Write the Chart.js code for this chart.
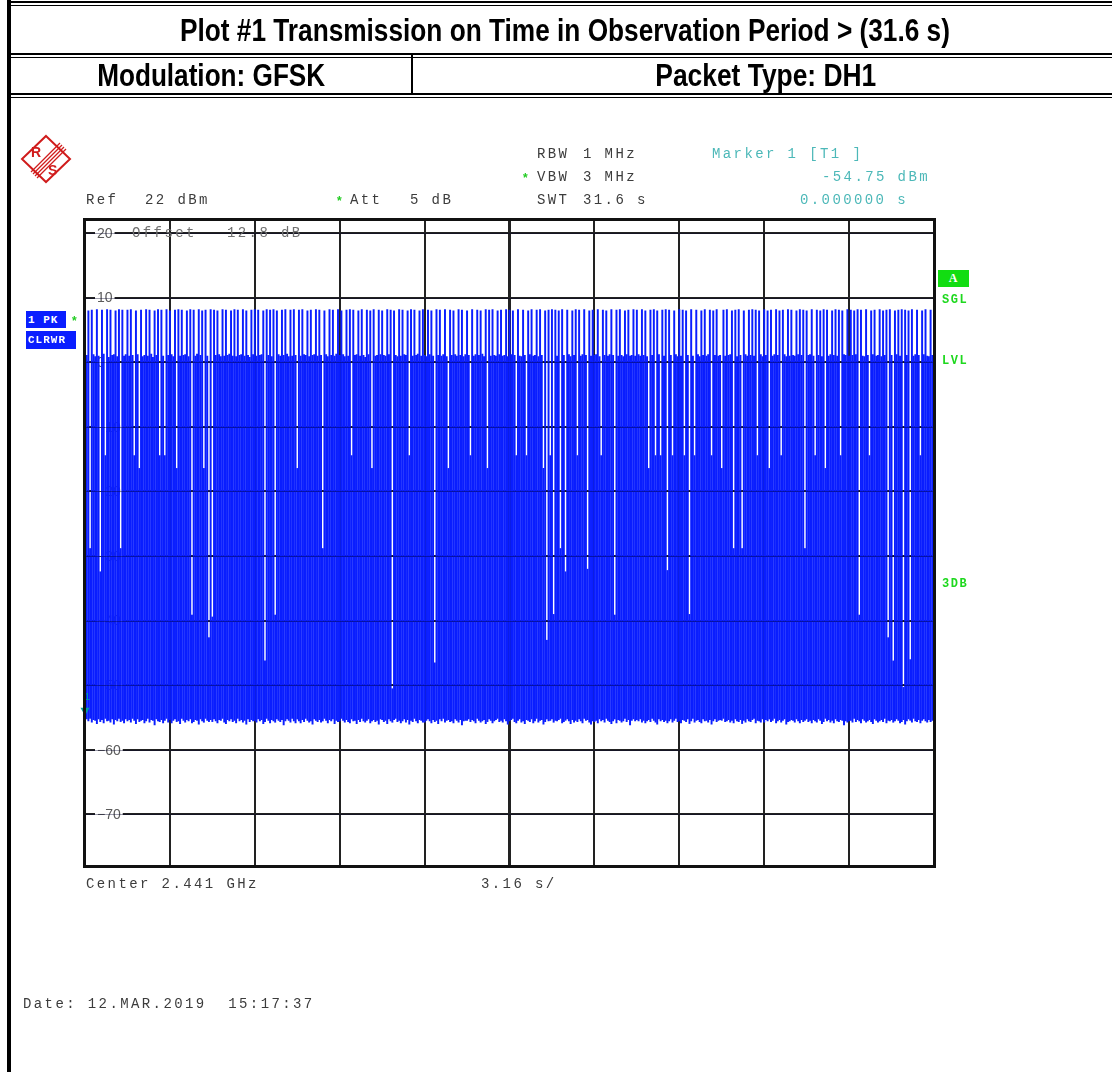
<!DOCTYPE html>
<html>
<head>
<meta charset="utf-8">
<title>Plot #1 Transmission on Time in Observation Period</title>
<script src="https://cdn.jsdelivr.net/npm/chart.js@4.4.1/dist/chart.umd.min.js"></script>
<style>
  html, body { margin: 0; padding: 0; background: #fff; }
  #page { position: relative; width: 1112px; height: 1072px; overflow: hidden; }
  #plot { position: absolute; left: 0; top: 0; }
  .bar { position: absolute; background: #000; }
  .row { position: absolute; display: flex; align-items: center; justify-content: center; }
  .head { font-family: "Liberation Sans Narrow", "Liberation Sans", sans-serif; font-weight: bold; font-size: 31px; color: #000; white-space: pre; display: inline-block; }
  .m { position: absolute; font-family: "Liberation Mono", monospace; font-size: 14px; line-height: 14px; letter-spacing: 2.4px; color: #3c3c3c; white-space: pre; }
  .mk { color: #4cb8b8; }
  .grey { color: #707070; }
  .star { position: absolute; font-family: "Liberation Sans", sans-serif; font-weight: bold; font-size: 12px; line-height: 12px; color: #22cc22; }
  .g { position: absolute; font-family: "Liberation Mono", monospace; font-weight: bold; font-size: 12px; line-height: 12px; letter-spacing: 1.5px; color: #1ed81e; }
  .box { position: absolute; font-family: "Liberation Mono", monospace; font-weight: bold; font-size: 11px; color: #fff; display: flex; align-items: center; padding-left: 2px; box-sizing: border-box; white-space: pre; letter-spacing: 1px; }
</style>
</head>
<body>
<div id="page">
  <canvas id="plot" width="1112" height="1072"></canvas>

  <!-- report table frame -->
  <div class="bar" style="left:7px;top:0;width:4px;height:1072px"></div>
  <div class="bar" style="left:7px;top:1px;width:1105px;height:2px"></div>
  <div class="bar" style="left:7px;top:5px;width:1105px;height:1px"></div>
  <div class="bar" style="left:7px;top:53px;width:1105px;height:2px"></div>
  <div class="bar" style="left:7px;top:57px;width:1105px;height:1px"></div>
  <div class="bar" style="left:7px;top:93px;width:1105px;height:2px"></div>
  <div class="bar" style="left:7px;top:97px;width:1105px;height:1px"></div>
  <div class="bar" style="left:411px;top:55px;width:2px;height:40px"></div>

  <div class="row" style="left:11px;top:8px;width:1108px;height:46px"><span class="head" data-fit="770">Plot #1 Transmission on Time in Observation Period &gt; (31.6 s)</span></div>
  <div class="row" style="left:11px;top:58px;width:400px;height:35px"><span class="head" data-fit="228">Modulation: GFSK</span></div>
  <div class="row" style="left:414px;top:58px;width:704px;height:35px"><span class="head" data-fit="221">Packet Type: DH1</span></div>

  <!-- R&S logo -->
  <svg style="position:absolute;left:16px;top:130px" width="60" height="58" viewBox="16 130 60 58">
    <polygon points="46,136 70,159 46,182 22,159" fill="none" stroke="#d01c1c" stroke-width="2"/>
    <g stroke="#d01c1c" stroke-width="1.3">
      <line x1="31" y1="172" x2="60" y2="143"/>
      <line x1="33" y1="174" x2="62" y2="145"/>
      <line x1="35" y1="176" x2="64" y2="147"/>
      <line x1="37" y1="178" x2="66" y2="149"/>
    </g>
    <text x="31" y="157" font-family="Liberation Sans" font-weight="bold" font-size="14" fill="#d01c1c">R</text>
    <text x="48" y="175" font-family="Liberation Sans" font-weight="bold" font-size="14" fill="#d01c1c">S</text>
  </svg>

  <!-- instrument settings -->
  <div class="m" style="left:537px;top:147px">RBW</div>
  <div class="m" style="left:583px;top:147px">1 MHz</div>
  <div class="star" style="left:523px;top:172px">*</div>
  <div class="m" style="left:537px;top:170px">VBW</div>
  <div class="m" style="left:583px;top:170px">3 MHz</div>
  <div class="m" style="left:537px;top:193px">SWT</div>
  <div class="m" style="left:583px;top:193px">31.6 s</div>
  <div class="m" style="left:86px;top:193px">Ref</div>
  <div class="m" style="left:145px;top:193px">22 dBm</div>
  <div class="star" style="left:337px;top:195px">*</div>
  <div class="m" style="left:350px;top:193px">Att</div>
  <div class="m" style="left:410px;top:193px">5 dB</div>
  <div class="m mk" style="left:712px;top:147px">Marker 1 [T1 ]</div>
  <div class="m mk" style="right:182px;top:170px">-54.75 dBm</div>
  <div class="m mk" style="right:204px;top:193px">0.000000 s</div>
  <div class="m grey" style="left:132px;top:226px">Offset</div>
  <div class="m grey" style="left:227px;top:226px">12.8 dB</div>

  <div class="m" style="left:86px;top:877px">Center 2.441 GHz</div>
  <div class="m" style="left:481px;top:877px">3.16 s/</div>
  <div class="m" style="left:23px;top:997px">Date: 12.MAR.2019  15:17:37</div>

  <!-- trace / status labels -->
  <div class="box" style="left:26px;top:311px;width:40px;height:17px;background:#0a1eff">1 PK</div>
  <div class="star" style="left:72px;top:315px">*</div>
  <div class="box" style="left:26px;top:331px;width:50px;height:18px;background:#0a1eff">CLRWR</div>
  <div class="box" style="left:938px;top:270px;width:31px;height:17px;background:#12dd12;justify-content:center;padding:0;font-family:'Liberation Serif',serif;font-size:12px">A</div>
  <div class="g" style="left:942px;top:294px">SGL</div>
  <div class="g" style="left:942px;top:355px">LVL</div>
  <div class="g" style="left:942px;top:578px">3DB</div>
</div>

<script>
// sweep settings
const sweepTime = 31.6;      // s
const xDivisions = 10;
const refLevel = 22;         // dBm, top of screen
const bottomLevel = -78;     // dBm, bottom of screen
const levelTicks = [20, 10, 0, -10, -20, -30, -40, -50, -60, -70];

// marker 1
const markerTime = 0;
const markerDbm = -54.75;

// max hold level of each sweep point (dBm)
const peakDbm = [
  8.2, 1.1, 8.0, -28.8, 8.1, 1.2, 0.9, 8.2, 1.0, -32.4, 8.1, 1.3, -14.4, 8.2, 0.8, 8.1, 1.1, 1.2, 8.0, 0.9, 8.2, -28.8, 8.1, 1.0, 1.2,
  8.1, 1.0, 8.2, 1.1, -14.4, 8.0, 1.2, -16.4, 8.1, 0.9, 1.1, 8.2, 1.0, 8.1, 1.3, 0.8, 8.0, 1.1, 8.2, -14.4, 8.1, 1.0, -14.4, 8.2, 1.1,
  8.0, 1.2, 0.9, 8.1, -16.4, 8.2, 1.0, 8.1, 1.1, 1.2, 8.0, 0.9, 8.2, -39.1, 8.1, 1.0, 1.3, 8.2, 1.1, 8.0, -16.4, 8.1, 1.0, -42.6, 8.2,
  -39.4, 8.1, 1.1, 8.0, 1.2, 0.9, 8.2, 1.0, 8.1, 1.1, 1.3, 8.0, 1.0, 8.2, 0.9, 8.1, 1.1, 1.2, 8.2, 1.0, 8.0, 1.1, 0.8, 8.1, 1.2,
  8.2, 1.0, 8.1, 1.1, 1.2, 8.0, -46.2, 8.2, 1.1, 8.1, 0.9, 8.2, -39.1, 8.0, 1.2, 1.0, 8.1, 1.1, 8.2, 1.3, 0.9, 8.1, 1.0, 8.2, 1.1,
  -16.4, 8.1, 1.0, 8.2, 1.2, 1.1, 8.0, 0.9, 8.1, 1.1, 1.2, 8.2, 1.0, 8.1, 1.1, -28.8, 8.0, 1.2, 0.9, 8.2, 1.1, 8.1, 1.0, 1.3, 8.2,
  1.1, 8.0, 1.2, 0.9, 8.1, 1.0, 8.2, -14.4, 8.1, 1.1, 1.2, 8.0, 1.0, 8.2, 1.1, 0.8, 8.1, 1.2, 8.0, -16.4, 8.2, 1.0, 1.1, 8.1, 1.2,
  8.0, 1.1, 1.0, 8.2, 1.2, 8.1, -50.5, 8.0, 1.1, 0.9, 8.2, 1.0, 8.1, 1.2, 1.1, 8.0, -14.4, 8.2, 1.0, 8.1, 1.1, 1.3, 8.0, 1.0, 8.2,
  1.1, 0.9, 8.1, 1.2, 8.0, 1.0, -46.5, 8.2, 1.1, 8.1, 1.0, 1.2, 8.2, 0.9, -16.4, 8.1, 1.1, 8.0, 1.2, 1.0, 8.2, 1.1, 8.1, 0.9, 1.2,
  8.0, 1.1, -14.4, 8.2, 1.0, 1.2, 8.1, 1.1, 8.0, 1.3, 0.9, 8.2, -16.4, 8.1, 1.0, 8.2, 1.1, 1.0, 8.0, 1.2, 8.1, 1.0, 1.1, 8.2, 0.9,
  8.1, 1.2, 8.0, 1.1, -14.4, 8.2, 1.0, 0.9, 8.1, 1.1, -14.4, 8.0, 1.2, 8.2, 1.0, 1.1, 8.1, 0.9, 8.2, 1.1, -16.4, 8.0, -43.0, 8.1, -14.4,
  8.2, -39.0, 8.1, 1.0, 8.0, -28.8, 8.2, 1.1, -32.4, 8.1, 1.2, 0.9, 8.0, 1.1, 8.2, -14.4, 8.1, 1.0, 1.2, 8.2, 1.1, -32.0, 8.0, 1.0, 8.1,
  1.1, 1.2, 8.2, 0.9, -14.4, 8.1, 1.1, 8.0, 1.0, 1.2, 8.2, 1.1, -39.1, 8.1, 1.0, 8.2, 1.1, 0.9, 8.0, 1.2, 8.1, 1.0, 1.1, 8.2, 1.0,
  8.1, 1.2, 1.0, 8.2, 1.1, 8.0, 0.9, -16.4, 8.1, 1.1, 8.2, -14.4, 8.0, 1.2, -14.4, 8.1, 1.0, 8.2, -32.2, 8.1, 1.1, -14.4, 8.0, 1.2, 0.9,
  8.2, 1.0, 8.1, -14.4, 8.0, 1.1, -39.0, 8.2, 1.0, -14.4, 8.1, 1.2, 0.9, 8.0, 1.1, 8.2, 1.0, 1.2, 8.1, -14.4, 8.0, 1.1, 8.2, 1.0, 1.1,
  -16.4, 8.1, 1.0, 8.2, 1.1, 1.2, 8.0, -28.8, 8.1, 0.9, 8.2, 1.1, -28.8, 8.0, 1.2, 1.0, 8.1, 1.1, 8.2, 1.0, 8.1, -14.4, 8.0, 1.2, 0.9,
  8.2, 1.1, 8.0, -16.4, 8.1, 1.0, 1.2, 8.2, 1.1, 8.0, -14.4, 8.1, 1.2, 0.9, 8.2, 1.0, 8.1, 1.1, 1.0, 8.0, 1.2, 8.2, 1.1, 8.1, -28.8,
  8.0, 1.1, 1.2, 8.2, 1.0, -14.4, 8.1, 1.1, 8.0, 0.9, 8.2, -16.4, 8.1, 1.0, 1.2, 8.0, 1.1, 8.2, 1.0, 8.1, -14.4, 8.0, 1.2, 1.1, 8.2,
  1.0, 8.1, 1.1, 8.0, 1.2, 8.2, -39.1, 8.1, 1.0, 0.9, 8.2, 1.1, -14.4, 8.0, 1.2, 8.1, 1.0, 1.1, 8.2, 0.9, 8.0, 1.1, 8.1, -42.6, 8.2,
  1.1, -46.2, 8.0, 1.2, 8.1, 1.0, 8.2, -50.3, 8.1, 1.1, 8.0, -46.0, 8.2, 1.0, 1.2, 8.1, 1.1, -14.4, 8.0, 1.2, 8.2, 1.0, 0.9, 8.1, 1.1,
  8.0
];

// noise floor between bursts at each sweep point (dBm)
const floorDbm = [
  -54.8, -55.3, -55.6, -55.2, -55.8, -55.4, -55.5, -56.0, -55.3, -55.7, -55.4, -55.9, -55.2, -55.6, -55.5, -55.8, -55.3, -56.1, -55.4, -55.6, -55.2, -55.7, -55.5, -55.9, -55.3,
  -55.6, -55.4, -55.8, -55.2, -55.5, -56.0, -55.3, -55.7, -55.5, -55.4, -55.9, -55.6, -55.2, -55.8, -55.4, -55.5, -56.2, -55.3, -55.6, -55.7, -55.4, -55.9, -55.5, -55.2, -55.8,
  -55.4, -55.9, -55.5, -55.3, -55.7, -55.6, -56.0, -55.2, -55.5, -55.8, -55.4, -55.6, -55.3, -55.9, -55.7, -55.4, -55.5, -56.1, -55.3, -55.6, -55.8, -55.2, -55.5, -55.7, -55.4,
  -55.7, -55.3, -55.6, -55.9, -55.4, -55.5, -55.2, -55.8, -56.0, -55.4, -55.6, -55.3, -55.7, -55.5, -55.9, -55.2, -55.6, -55.4, -55.8, -55.5, -56.1, -55.3, -55.7, -55.4, -55.6,
  -55.5, -55.8, -55.3, -55.6, -55.4, -56.0, -55.7, -55.2, -55.5, -55.9, -55.4, -55.6, -55.8, -55.3, -55.5, -55.7, -55.4, -56.2, -55.6, -55.3, -55.5, -55.8, -55.2, -55.6, -55.9,
  -55.3, -55.6, -55.9, -55.4, -55.7, -55.2, -55.5, -55.8, -55.6, -56.1, -55.3, -55.5, -55.7, -55.4, -55.8, -55.6, -55.2, -55.5, -55.9, -55.4, -55.6, -55.3, -56.0, -55.5, -55.7,
  -55.6, -55.2, -55.5, -55.8, -55.4, -55.7, -55.9, -55.3, -55.6, -55.5, -56.0, -55.4, -55.7, -55.2, -55.6, -55.8, -55.5, -55.3, -55.9, -55.6, -55.4, -55.7, -55.5, -56.1, -55.3,
  -55.4, -55.7, -55.5, -56.0, -55.3, -55.6, -55.8, -55.4, -55.2, -55.7, -55.5, -55.9, -55.6, -55.3, -55.8, -55.4, -56.1, -55.5, -55.7, -55.2, -55.6, -55.9, -55.4, -55.5, -55.8,
  -55.8, -55.5, -55.3, -55.6, -55.9, -55.4, -55.7, -55.5, -56.0, -55.3, -55.6, -55.2, -55.8, -55.5, -55.4, -55.7, -55.6, -55.9, -55.3, -55.5, -55.8, -55.4, -56.2, -55.6, -55.5,
  -55.5, -55.3, -55.7, -55.4, -55.6, -55.9, -55.2, -55.5, -55.8, -55.6, -55.4, -56.0, -55.7, -55.3, -55.5, -55.9, -55.6, -55.4, -55.2, -55.7, -55.5, -55.8, -55.3, -55.6, -56.1,
  -55.6, -55.4, -55.2, -55.7, -55.9, -55.5, -55.3, -55.8, -55.6, -56.0, -55.4, -55.5, -55.7, -55.3, -55.9, -55.6, -55.2, -55.8, -55.5, -55.4, -56.1, -55.7, -55.3, -55.6, -55.5,
  -55.3, -55.8, -55.5, -55.6, -55.4, -55.2, -55.9, -55.7, -55.5, -55.3, -55.6, -56.0, -55.4, -55.8, -55.5, -55.7, -55.3, -55.6, -55.9, -55.2, -55.5, -55.4, -55.8, -56.1, -55.6,
  -55.7, -55.5, -55.9, -55.3, -55.6, -55.4, -55.8, -55.2, -55.5, -55.7, -56.0, -55.6, -55.3, -55.9, -55.4, -55.5, -55.8, -55.6, -55.2, -55.7, -55.4, -56.2, -55.5, -55.3, -55.6,
  -55.4, -55.6, -55.3, -55.8, -55.5, -55.9, -55.6, -55.4, -55.7, -55.2, -55.5, -55.8, -56.1, -55.3, -55.6, -55.4, -55.7, -55.5, -55.9, -55.6, -55.3, -55.8, -55.5, -55.2, -55.7,
  -55.6, -55.9, -55.4, -55.5, -55.7, -55.3, -56.0, -55.6, -55.2, -55.8, -55.5, -55.4, -55.7, -55.9, -55.3, -55.6, -55.5, -55.8, -55.4, -56.1, -55.6, -55.3, -55.7, -55.5, -55.4,
  -55.5, -55.2, -55.7, -55.6, -55.4, -55.8, -55.5, -55.9, -55.3, -55.6, -55.7, -55.4, -56.0, -55.5, -55.8, -55.3, -55.6, -55.7, -55.4, -55.2, -55.9, -55.5, -55.6, -55.8, -55.3,
  -55.8, -55.4, -55.6, -55.3, -55.7, -55.5, -55.2, -55.9, -55.6, -55.4, -55.8, -55.5, -55.3, -56.1, -55.7, -55.6, -55.4, -55.5, -55.8, -55.3, -55.6, -55.9, -55.4, -55.7, -55.5,
  -55.3, -55.7, -55.5, -55.9, -55.4, -55.6, -55.8, -55.3, -55.5, -56.0, -55.7, -55.2, -55.6, -55.4, -55.8, -55.5, -55.9, -55.3, -55.6, -55.7, -55.4, -55.5, -56.2, -55.6, -55.8,
  -55.6, -55.5, -55.8, -55.2, -55.7, -55.4, -55.6, -55.9, -55.3, -55.5, -55.8, -55.6, -55.4, -55.7, -56.0, -55.3, -55.5, -55.8, -55.6, -55.4, -55.7, -55.2, -55.9, -55.5, -55.6,
  -55.4, -55.8, -55.6, -55.3, -55.5, -55.9, -55.7, -55.4, -56.1, -55.6, -55.3, -55.5, -55.8, -55.2, -55.6, -55.7, -55.4, -55.9, -55.5, -55.3, -55.6, -55.8, -55.4, -55.7, -55.5,
  -55.6
];

const nPoints = Math.min(peakDbm.length, floorDbm.length);
const sweepTimes = peakDbm.slice(0, nPoints).map((_, i) => i * sweepTime / (nPoints - 1));
const traceData = sweepTimes.map((t, i) => ({ x: t, y: [floorDbm[i], peakDbm[i]] }));

// fit the report headings to their printed widths
document.querySelectorAll('[data-fit]').forEach((el) => {
  const w = el.getBoundingClientRect().width;
  el.style.transform = 'scaleX(' + (Number(el.dataset.fit) / w) + ')';
});

const TRACE_BLUE = '#0a1eff';

// level labels inside the grid, grid over trace, marker and frame
const screenPlugin = {
  id: 'screen',
  beforeDatasetsDraw(chart) {
    const { ctx, scales: { y } } = chart;
    ctx.save();
    ctx.font = '14px "Liberation Sans", sans-serif';
    ctx.textBaseline = 'middle';
    y.ticks.forEach((tick) => {
      const py = y.getPixelForValue(tick.value);
      const label = tick.value < 0 ? '\u2212' + Math.abs(tick.value) : String(tick.value);
      const w = ctx.measureText(label).width;
      ctx.fillStyle = '#fff';
      ctx.fillRect(95, py - 3, w + 4, 6);
      ctx.fillStyle = '#5a5a5a';
      ctx.fillText(label, 97, py + 1);
    });
    ctx.restore();
  },
  afterDatasetsDraw(chart) {
    const { ctx, chartArea: a, scales: { x, y } } = chart;
    ctx.save();
    // grid lines show through the trace
    ctx.strokeStyle = 'rgba(0, 0, 40, 0.38)';
    ctx.lineWidth = 1;
    y.ticks.forEach((tick) => {
      const py = Math.round(y.getPixelForValue(tick.value)) + 0.5;
      ctx.beginPath();
      ctx.moveTo(a.left, py);
      ctx.lineTo(a.right, py);
      ctx.stroke();
    });
    // marker 1
    const mx = x.getPixelForValue(markerTime);
    const my = y.getPixelForValue(markerDbm);
    ctx.fillStyle = '#00a0a0';
    ctx.beginPath();
    ctx.moveTo(mx - 4.5, my - 8);
    ctx.lineTo(mx + 4.5, my - 8);
    ctx.lineTo(mx, my);
    ctx.closePath();
    ctx.fill();
    ctx.font = '11px "Liberation Mono", monospace';
    ctx.textAlign = 'center';
    ctx.textBaseline = 'alphabetic';
    ctx.fillText('1', mx + 2, my - 16);
    // screen frame
    ctx.strokeStyle = '#111';
    ctx.lineWidth = 3;
    ctx.strokeRect(a.left - 0.5, a.top - 0.5, a.right - a.left + 1, a.bottom - a.top + 1);
    ctx.restore();
  }
};

const ctx = document.getElementById('plot');

new Chart(ctx, {
  type: 'bar',
  data: {
    datasets: [
      {
        label: 'Trace 1 PK',
        data: traceData,
        backgroundColor: TRACE_BLUE,
        borderWidth: 0,
        barPercentage: 1.15,
        categoryPercentage: 1,
        grouped: false,
        clip: 0,
      },
    ],
  },
  options: {
    responsive: false,
    animation: false,
    events: [],
    layout: {
      padding: { left: 85, top: 220, right: 178, bottom: 206 },
    },
    plugins: {
      legend: { display: false },
      tooltip: { enabled: false },
    },
    scales: {
      x: {
        type: 'linear',
        min: 0,
        max: sweepTime,
        offset: false,
        afterBuildTicks: (scale) => {
          const ticks = [];
          for (let i = 0; i <= xDivisions; i++) ticks.push({ value: i * sweepTime / xDivisions });
          scale.ticks = ticks;
        },
        ticks: { display: false },
        border: { display: false },
        grid: {
          offset: false,
          drawTicks: false,
          color: '#222',
          lineWidth: (c) => (c.index === xDivisions / 2 ? 3 : 2),
        },
      },
      y: {
        min: bottomLevel,
        max: refLevel,
        afterBuildTicks: (scale) => {
          scale.ticks = levelTicks.map((v) => ({ value: v }));
        },
        ticks: { display: false },
        border: { display: false },
        grid: {
          drawTicks: false,
          color: '#222',
          lineWidth: 2,
        },
      },
    },
  },
  plugins: [screenPlugin],
});
</script>
</body>
</html>
